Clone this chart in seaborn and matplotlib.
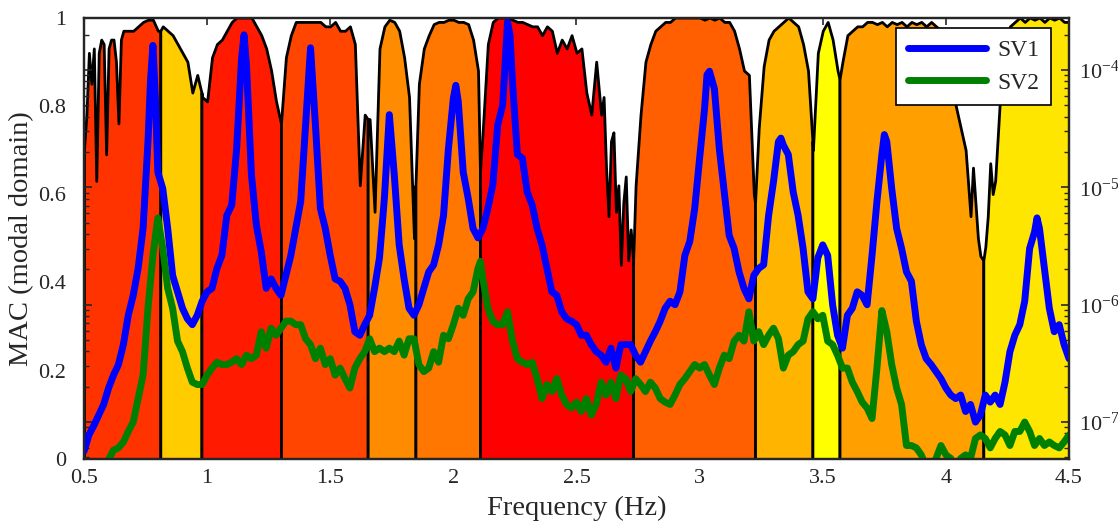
import numpy as np
import matplotlib
matplotlib.use("Agg")
import matplotlib.pyplot as plt
import seaborn as sns
from matplotlib.ticker import FixedLocator, LogLocator, LogFormatterMathtext, NullFormatter

# ---------------------------------------------------------------------------
# Data: frequency sampled every 0.02 Hz from 0.5 Hz; each row covers 0.2 Hz
# ---------------------------------------------------------------------------
F0, DF = 0.5, 0.02

# MAC value (modal domain) of the dominant mode at each frequency line
mac_grid = [
    0.70, 0.92, 0.93, 0.92, 0.94, 0.93, 0.95, 0.76, 0.97, 0.97,    # 0.50-0.68
    0.97, 0.98, 0.99, 0.995, 0.995, 0.97, 0.98, 0.97, 0.96, 0.94,  # 0.70-0.88
    0.92, 0.90, 0.83, 0.87, 0.82, 0.81, 0.91, 0.94, 0.95, 0.97,    # 0.90-1.08
    0.99, 1.0, 1.0, 1.0, 1.0, 0.98, 0.96, 0.93, 0.88, 0.81,        # 1.10-1.28
    0.76, 0.91, 0.96, 0.99, 0.99, 0.99, 0.99, 0.99, 0.99, 0.98,    # 1.30-1.48
    0.98, 0.99, 0.97, 0.97, 0.98, 0.94, 0.62, 0.78, 0.77, 0.56,    # 1.50-1.68
    0.93, 0.98, 0.995, 0.99, 0.97, 0.91, 0.82, 0.50, 0.85, 0.93,   # 1.70-1.88
    0.96, 0.985, 0.99, 0.99, 0.995, 0.995, 0.99, 0.99, 0.985, 0.95,  # 1.90-2.08
    0.88, 0.75, 0.94, 0.99, 1.0, 1.0, 1.0, 0.995, 0.99, 0.99,      # 2.10-2.28
    0.985, 0.98, 0.98, 0.96, 0.98, 0.97, 0.92, 0.95, 0.93, 0.96,   # 2.30-2.48
    0.92, 0.93, 0.83, 0.78, 0.90, 0.78, 0.66, 0.72, 0.56, 0.44,    # 2.50-2.68
    0.64, 0.52, 0.62, 0.78, 0.90, 0.94, 0.97, 0.98, 0.99, 0.99,    # 2.70-2.88
    1.0, 1.0, 1.0, 1.0, 1.0, 1.0, 0.995, 1.0, 0.995, 1.0,          # 2.90-3.08
    0.99, 0.99, 0.97, 0.93, 0.88, 0.87, 0.60, 0.75, 0.89, 0.95,    # 3.10-3.28
    0.97, 0.98, 0.99, 1.0, 0.99, 0.98, 0.94, 0.88, 0.70, 0.92,     # 3.30-3.48
    0.97, 0.99, 0.95, 0.88, 0.90, 0.96, 0.97, 0.98, 0.98, 0.99,    # 3.50-3.68
    0.99, 0.985, 0.99, 0.98, 0.99, 0.985, 0.99, 0.98, 0.99, 0.985,  # 3.70-3.88
    0.99, 0.98, 0.99, 0.98, 0.97, 0.93, 0.86, 0.80, 0.75, 0.70,    # 3.90-4.08
    0.55, 0.58, 0.46, 0.48, 0.67, 0.63, 0.82, 0.93, 0.98, 0.99,    # 4.10-4.28
    1.0, 0.99, 1.0, 0.995, 1.0, 0.99, 1.0, 0.995, 1.0, 0.99,       # 4.30-4.48
    0.99,                                                          # 4.50
]
# additional MAC lines in the noisy stretches
mac_extra_freq = [0.51, 0.53, 0.55, 0.57, 0.59, 0.61, 0.63, 0.65,
                  2.61, 2.63, 2.65, 2.67, 2.69, 2.71, 4.11, 4.13, 4.17, 4.19]
mac_extra = [0.78, 0.85, 0.63, 0.95, 0.69, 0.95, 0.90, 0.95,
             0.82, 0.55, 0.74, 0.62, 0.58, 0.45, 0.66, 0.50, 0.55, 0.60]

# frequency bands assigned to each identified mode, MAC at the band limits
band_edges = [0.5, 0.81, 0.977, 1.30, 1.652, 1.846, 2.108, 2.73,
              3.225, 3.458, 3.568, 4.152, 4.5]
edge_mac = [0.97, 0.83, 0.76, 0.77, 0.62, 0.65, 0.45, 0.58, 0.72, 0.86, 0.45]
band_colors = ["#FF3300", "#FFCC00", "#FF1A00", "#FF4500", "#FF8C00", "#FF7700",
               "#FF0000", "#FF5F00", "#FFB400", "#FFFF00", "#FFA000", "#FFE600"]

# singular values, stored as log10 of the value
sv1_exp = [
    -7.25, -7.11, -7.03, -6.94, -6.85, -6.71, -6.60, -6.51, -6.34, -6.09,  # 0.50-0.68
    -5.92, -5.69, -5.35, -4.61, -3.79, -4.87, -5.01, -5.35, -5.75, -5.89,  # 0.70-0.88
    -6.03, -6.12, -6.17, -6.09, -5.97, -5.89, -5.86, -5.69, -5.58, -5.24,  # 0.90-1.08
    -5.15, -4.67, -3.90, -3.96, -4.89, -5.32, -5.55, -5.86, -5.78, -5.86,  # 1.10-1.28
    -5.92, -5.75, -5.58, -5.35, -5.12, -4.47, -3.81, -4.47, -5.18, -5.35,  # 1.30-1.48
    -5.58, -5.78, -5.80, -5.86, -6.00, -6.23, -6.26, -6.17, -6.09, -5.86,  # 1.50-1.68
    -5.60, -5.09, -4.38, -4.89, -5.49, -5.78, -6.03, -6.09, -6.00, -5.86,  # 1.70-1.88
    -5.72, -5.66, -5.49, -5.24, -4.67, -4.24, -4.27, -4.87, -5.09, -5.35,  # 1.90-2.08
    -5.43, -5.35, -5.18, -4.98, -4.47, -4.30, -3.59, -4.10, -4.72, -4.75,  # 2.10-2.28
    -5.04, -5.15, -5.35, -5.49, -5.69, -5.89, -5.92, -6.06, -6.12, -6.14,  # 2.30-2.48
    -6.17, -6.26, -6.26, -6.34, -6.40, -6.43, -6.49, -6.37, -6.54, -6.34,  # 2.50-2.68
    -6.34, -6.34, -6.43, -6.49, -6.40, -6.31, -6.23, -6.14, -6.03, -5.97,  # 2.70-2.88
    -6.00, -5.89, -5.58, -5.46, -5.18, -4.75, -4.33, -4.01, -4.16, -4.67,  # 2.90-3.08
    -5.04, -5.41, -5.52, -5.72, -5.86, -5.95, -5.75, -5.69, -5.66, -5.24,  # 3.10-3.28
    -4.95, -4.61, -4.64, -4.72, -5.04, -5.24, -5.52, -5.89, -5.95, -5.60,  # 3.30-3.48
    -5.49, -5.58, -6.00, -6.26, -6.37, -6.09, -6.03, -5.89, -5.92, -6.00,  # 3.50-3.68
    -5.58, -5.12, -4.72, -4.61, -5.01, -5.35, -5.52, -5.72, -5.80, -6.14,  # 3.70-3.88
    -6.34, -6.46, -6.51, -6.57, -6.63, -6.71, -6.77, -6.80, -6.77, -6.91,  # 3.90-4.08
    -6.85, -7.00, -6.94, -6.77, -6.83, -6.77, -6.85, -6.66, -6.40, -6.26,  # 4.10-4.28
    -6.17, -5.97, -5.52, -5.38, -5.35, -5.69, -6.03, -6.23, -6.17, -6.34,  # 4.30-4.48
    -6.46,                                                                 # 4.50
]
sv1_peak_freq = [0.77, 0.79, 1.15, 2.01, 2.23, 3.03, 3.33, 3.75, 4.37]
sv1_peak_exp = [-4.10, -4.24, -3.70, -4.13, -3.70, -4.04, -4.58, -4.55, -5.26]

sv2_exp = [
    -7.60, -7.60, -7.60, -7.60, -7.50, -7.32, -7.24, -7.22, -7.17, -7.08,  # 0.50-0.68
    -7.00, -6.80, -6.60, -6.03, -5.58, -5.26, -5.52, -5.86, -6.03, -6.31,  # 0.70-0.88
    -6.40, -6.54, -6.66, -6.68, -6.68, -6.60, -6.54, -6.49, -6.51, -6.51,  # 0.90-1.08
    -6.49, -6.46, -6.51, -6.43, -6.46, -6.43, -6.23, -6.37, -6.20, -6.26,  # 1.10-1.28
    -6.20, -6.14, -6.14, -6.17, -6.17, -6.29, -6.34, -6.46, -6.37, -6.51,  # 1.30-1.48
    -6.46, -6.60, -6.54, -6.63, -6.71, -6.54, -6.46, -6.40, -6.29, -6.40,  # 1.50-1.68
    -6.37, -6.40, -6.37, -6.40, -6.31, -6.43, -6.29, -6.29, -6.51, -6.57,  # 1.70-1.88
    -6.54, -6.40, -6.49, -6.26, -6.29, -6.17, -6.03, -6.09, -5.95, -5.89,  # 1.90-2.08
    -5.69, -5.78, -6.03, -6.14, -6.17, -6.17, -6.06, -6.31, -6.46, -6.49,  # 2.10-2.28
    -6.51, -6.49, -6.63, -6.80, -6.68, -6.74, -6.63, -6.77, -6.85, -6.88,  # 2.30-2.48
    -6.83, -6.91, -6.80, -6.94, -6.85, -6.66, -6.77, -6.66, -6.80, -6.60,  # 2.50-2.68
    -6.63, -6.74, -6.63, -6.68, -6.74, -6.66, -6.71, -6.80, -6.83, -6.85,  # 2.70-2.88
    -6.77, -6.68, -6.63, -6.57, -6.51, -6.54, -6.51, -6.60, -6.68, -6.54,  # 2.90-3.08
    -6.43, -6.46, -6.31, -6.26, -6.31, -6.06, -6.31, -6.23, -6.34, -6.26,  # 3.10-3.28
    -6.20, -6.29, -6.54, -6.43, -6.40, -6.34, -6.31, -6.12, -6.06, -6.12,  # 3.30-3.48
    -6.09, -6.31, -6.34, -6.43, -6.54, -6.54, -6.66, -6.74, -6.83, -6.88,  # 3.50-3.68
    -6.97, -6.54, -6.05, -6.23, -6.51, -6.71, -6.85, -7.20, -7.20, -7.22,  # 3.70-3.88
    -7.28, -7.38, -7.40, -7.31, -7.20, -7.28, -7.31, -7.40, -7.31, -7.28,  # 3.90-4.08
    -7.31, -7.14, -7.11, -7.14, -7.22, -7.14, -7.08, -7.11, -7.20, -7.08,  # 4.10-4.28
    -7.08, -7.00, -7.08, -7.20, -7.14, -7.20, -7.17, -7.20, -7.22, -7.17,  # 4.30-4.48
    -7.11,                                                                 # 4.50
]
sv2_peak_freq = [2.11]
sv2_peak_exp = [-5.63]

xtick_values = [0.5, 1.0, 1.5, 2.0, 2.5, 3.0, 3.5, 4.0, 4.5]
xtick_labels = ["0.5", "1", "1.5", "2", "2.5", "3", "3.5", "4", "4.5"]
ytick_values = [0.0, 0.2, 0.4, 0.6, 0.8, 1.0]
ytick_labels = ["0", "0.2", "0.4", "0.6", "0.8", "1"]
sv_ticks = [1e-7, 1e-6, 1e-5, 1e-4]


def merged(base, extra_f, extra_v):
    f = np.concatenate([F0 + DF * np.arange(len(base)), extra_f])
    v = np.concatenate([base, extra_v])
    order = np.argsort(f, kind="stable")
    return f[order], v[order]


# ---------------------------------------------------------------------------
# Figure
# ---------------------------------------------------------------------------
sns.set_style("ticks")
plt.rcParams["font.family"] = ["Liberation Serif", "DejaVu Serif"]
plt.rcParams["mathtext.fontset"] = "custom"
plt.rcParams["mathtext.rm"] = "Liberation Serif"
plt.rcParams["mathtext.it"] = "Liberation Serif:italic"
plt.rcParams["axes.linewidth"] = 1.6

fig = plt.figure(figsize=(11.18, 5.29), dpi=100)
ax = fig.add_axes([0.0751, 0.1323, 0.9562 - 0.0751, 0.9669 - 0.1323])

# MAC bands: each band filled up to the MAC curve with a black outline
mac_f, mac_v = merged(mac_grid, mac_extra_freq + band_edges[1:-1], mac_extra + edge_mac)
for lo, hi, col in zip(band_edges[:-1], band_edges[1:], band_colors):
    m = (mac_f >= lo - 1e-9) & (mac_f <= hi + 1e-9)
    ax.fill_between(mac_f[m], 0, mac_v[m], facecolor=col, edgecolor="black",
                    linewidth=2.0, zorder=1)

ax.set_xlim(0.5, 4.5)
ax.set_ylim(0, 1)
ax.set_xticks(xtick_values)
ax.set_xticklabels(xtick_labels)
ax.set_yticks(ytick_values)
ax.set_yticklabels(ytick_labels)
ax.tick_params(axis="x", direction="in", length=5, width=1.2, labelsize=16,
               top=True, pad=7)
ax.tick_params(axis="y", direction="in", length=5, width=1.2, labelsize=16,
               pad=13)
ax.set_xlabel("Frequency (Hz)", fontsize=20.5, labelpad=6)
ax.set_ylabel("MAC (modal domain)", fontsize=20.5, labelpad=3)

# Singular value spectra on a logarithmic right axis
ax2 = ax.twinx()
ax2.set_yscale("log")
sv1_f, sv1_v = merged(sv1_exp, sv1_peak_freq, sv1_peak_exp)
sv2_f, sv2_v = merged(sv2_exp, sv2_peak_freq, sv2_peak_exp)
sns.lineplot(x=sv1_f, y=10.0 ** sv1_v, ax=ax2, color="#0000FF", linewidth=5,
             label="SV1", sort=False, estimator=None, legend=False)
sns.lineplot(x=sv2_f, y=10.0 ** sv2_v, ax=ax2, color="#008000", linewidth=5,
             label="SV2", sort=False, estimator=None, legend=False)
ax2.set_xlim(0.5, 4.5)
ax2.set_ylim(10 ** -7.315, 10 ** -3.552)
ax2.yaxis.set_major_locator(FixedLocator(sv_ticks))
ax2.yaxis.set_major_formatter(LogFormatterMathtext())
ax2.yaxis.set_minor_locator(LogLocator(base=10, subs=np.arange(2, 10), numticks=20))
ax2.yaxis.set_minor_formatter(NullFormatter())
ax2.tick_params(axis="y", which="major", direction="in", length=6, width=1.2,
                labelsize=16, left=True, right=True, pad=7)
ax2.tick_params(axis="y", which="minor", direction="in", length=3.5, width=1.0,
                left=True, right=True)
ax2.set_ylabel("")

leg = ax2.legend(handles=ax2.get_lines(), labels=["SV1", "SV2"],
                 loc="upper right", bbox_to_anchor=(0.982, 0.976), borderaxespad=0,
                 fontsize=17, handlelength=3.3, handletextpad=0.5,
                 labelspacing=0.45, borderpad=0.5, frameon=True, fancybox=False,
                 framealpha=1, edgecolor="black")
leg.get_frame().set_linewidth(1.2)

for spine in ax2.spines.values():
    spine.set_linewidth(1.6)

fig.savefig("out.png", dpi=100)
